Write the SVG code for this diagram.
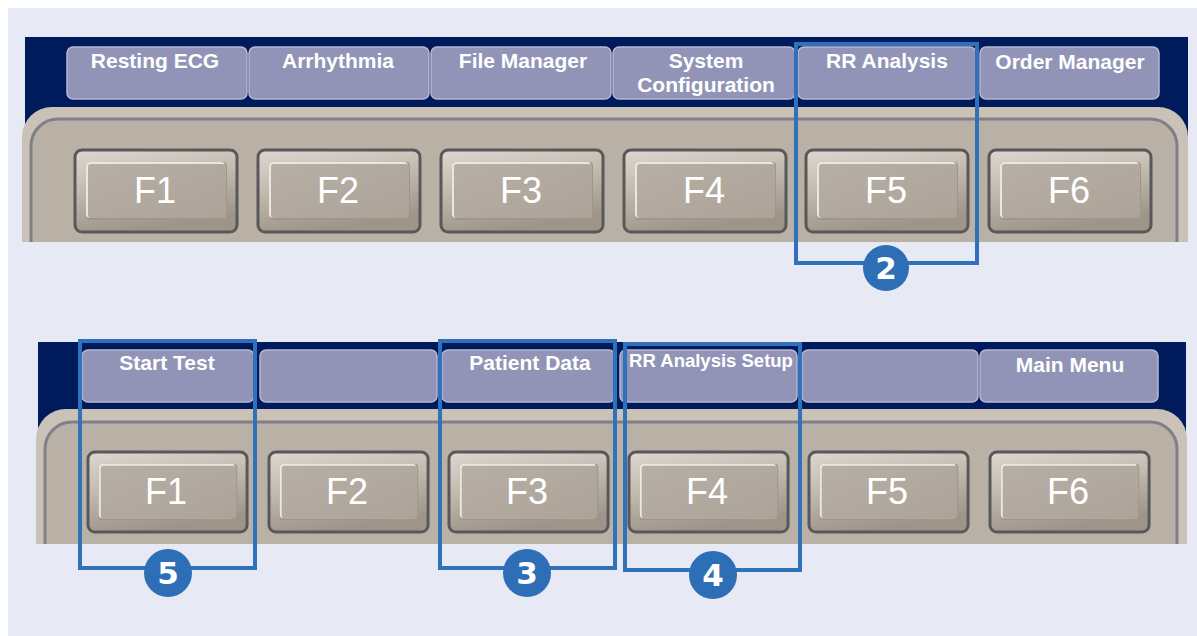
<svg xmlns="http://www.w3.org/2000/svg" width="1197" height="636" viewBox="0 0 1197 636">
<style>
.navy{fill:#001b5b}
.tab{fill:#9194b6;stroke:#b6b8d3;stroke-width:1.5}
.tl{font-family:"Liberation Sans",Arial,sans-serif;font-weight:bold;font-size:21px;fill:#ffffff;text-anchor:middle}
.kl{font-family:"Liberation Sans",Arial,sans-serif;font-size:36px;fill:#ffffff;text-anchor:middle}
.rim{fill:#cac2b7}
.deck{fill:#b9b1a6;stroke:#7f8087;stroke-width:3}
.hl{fill:none;stroke:#2f72ba;stroke-width:4}
.badge{fill:#2d6eb6}
.bn{font-family:"DejaVu Sans",sans-serif;font-weight:bold;font-size:31px;fill:#ffffff;text-anchor:middle}
</style>
<defs>
<linearGradient id="kg" x1="0" y1="0" x2="0.3" y2="1">
<stop offset="0" stop-color="#ddd7cf"/>
<stop offset="0.45" stop-color="#c4bcb1"/>
<stop offset="1" stop-color="#9e9489"/>
</linearGradient>
<linearGradient id="fg" x1="0" y1="0" x2="1" y2="1">
<stop offset="0" stop-color="#b7afa5"/>
<stop offset="1" stop-color="#aca399"/>
</linearGradient>
<g id="key">
<rect x="0" y="0" width="162" height="82" rx="7" fill="url(#kg)" stroke="#58585a" stroke-width="3"/>
<rect x="11" y="12" width="141" height="58" rx="4" fill="#9f968b"/>
<rect x="11" y="12" width="139" height="56" rx="4" fill="#ebe6df"/>
<rect x="13" y="14" width="138" height="54" rx="3" fill="url(#fg)"/>
</g>
<clipPath id="c1"><rect x="8" y="37" width="1189" height="205"/></clipPath>
<clipPath id="c2"><rect x="8" y="342" width="1189" height="202"/></clipPath>
</defs>

<rect x="0" y="0" width="1197" height="636" fill="#ffffff"/>
<rect x="8" y="8" width="1189" height="628" fill="#e7e9f5"/>

<g id="panel-top">
<rect class="navy" x="25" y="37" width="1163" height="205"/>
<g id="tab-resting-ecg"><rect class="tab" x="67" y="47" width="180" height="52" rx="6"/><text class="tl" x="155" y="68">Resting ECG</text></g>
<g id="tab-arrhythmia"><rect class="tab" x="249" y="47" width="180" height="52" rx="6"/><text class="tl" x="338" y="68">Arrhythmia</text></g>
<g id="tab-file-manager"><rect class="tab" x="431" y="47" width="180" height="52" rx="6"/><text class="tl" x="523" y="68">File Manager</text></g>
<g id="tab-system-config"><rect class="tab" x="613" y="47" width="182" height="52" rx="6"/><text class="tl" x="706" y="68">System</text><text class="tl" x="706" y="92">Configuration</text></g>
<g id="tab-rr-analysis"><rect class="tab" x="798" y="47" width="178" height="52" rx="6"/><text class="tl" x="887" y="68">RR Analysis</text></g>
<g id="tab-order-manager"><rect class="tab" x="980" y="47" width="179" height="52" rx="6"/><text class="tl" x="1070" y="69">Order Manager</text></g>
<g clip-path="url(#c1)">
<path class="rim" d="M22,260 V137 A30,30 0 0 1 52,107 H1158 A30,30 0 0 1 1188,137 V260 Z"/>
<path class="deck" d="M31,262 V146 A27,27 0 0 1 58,119 H1150 A27,27 0 0 1 1177,146 V262"/>
</g>
<g id="key-top-f1"><use href="#key" x="75" y="150"/><text class="kl" x="155" y="203">F1</text></g>
<g id="key-top-f2"><use href="#key" x="258" y="150"/><text class="kl" x="338" y="203">F2</text></g>
<g id="key-top-f3"><use href="#key" x="441" y="150"/><text class="kl" x="521" y="203">F3</text></g>
<g id="key-top-f4"><use href="#key" x="624" y="150"/><text class="kl" x="704" y="203">F4</text></g>
<g id="key-top-f5"><use href="#key" x="806" y="150"/><text class="kl" x="886" y="203">F5</text></g>
<g id="key-top-f6"><use href="#key" x="989" y="150"/><text class="kl" x="1069" y="203">F6</text></g>
</g>

<g id="panel-bottom">
<rect class="navy" x="38" y="342" width="1148" height="202"/>
<g id="tab-start-test"><rect class="tab" x="82" y="350" width="172" height="52" rx="6"/><text class="tl" x="167" y="370">Start Test</text></g>
<g id="tab-blank-2"><rect class="tab" x="260" y="350" width="177" height="52" rx="6"/></g>
<g id="tab-patient-data"><rect class="tab" x="442" y="350" width="173" height="52" rx="6"/><text class="tl" x="530" y="370">Patient Data</text></g>
<g id="tab-rr-setup"><rect class="tab" x="620" y="350" width="177" height="52" rx="6"/><text class="tl" x="711" y="367" style="font-size:18.5px">RR Analysis Setup</text></g>
<g id="tab-blank-5"><rect class="tab" x="802" y="350" width="176" height="52" rx="6"/></g>
<g id="tab-main-menu"><rect class="tab" x="980" y="350" width="178" height="52" rx="6"/><text class="tl" x="1070" y="372">Main Menu</text></g>
<g clip-path="url(#c2)">
<path class="rim" d="M36,560 V439 A30,30 0 0 1 66,409 H1157 A30,30 0 0 1 1187,439 V560 Z"/>
<path class="deck" d="M45,562 V449 A27,27 0 0 1 72,422 H1150 A27,27 0 0 1 1177,449 V562"/>
</g>
<g id="key-bot-f1"><use href="#key" transform="translate(88,452) scale(0.982,0.976)"/><text class="kl" x="166" y="504">F1</text></g>
<g id="key-bot-f2"><use href="#key" transform="translate(269,452) scale(0.982,0.976)"/><text class="kl" x="347" y="504">F2</text></g>
<g id="key-bot-f3"><use href="#key" transform="translate(449,452) scale(0.982,0.976)"/><text class="kl" x="527" y="504">F3</text></g>
<g id="key-bot-f4"><use href="#key" transform="translate(629,452) scale(0.982,0.976)"/><text class="kl" x="707" y="504">F4</text></g>
<g id="key-bot-f5"><use href="#key" transform="translate(809,452) scale(0.982,0.976)"/><text class="kl" x="887" y="504">F5</text></g>
<g id="key-bot-f6"><use href="#key" transform="translate(990,452) scale(0.982,0.976)"/><text class="kl" x="1068" y="504">F6</text></g>
</g>

<g id="callouts">
<g id="callout-2"><rect class="hl" x="796" y="44" width="181" height="219"/><circle class="badge" cx="886" cy="268" r="23"/><text class="bn" x="886" y="279">2</text></g>
<g id="callout-5"><rect class="hl" x="80" y="341" width="175" height="227"/><circle class="badge" cx="168" cy="573" r="24"/><text class="bn" x="168" y="584">5</text></g>
<g id="callout-3"><rect class="hl" x="440" y="341" width="175" height="227"/><circle class="badge" cx="527" cy="573" r="24"/><text class="bn" x="527" y="584">3</text></g>
<g id="callout-4"><rect class="hl" x="625" y="344" width="175" height="226"/><circle class="badge" cx="713" cy="575" r="24"/><text class="bn" x="713" y="586">4</text></g>
</g>
</svg>
